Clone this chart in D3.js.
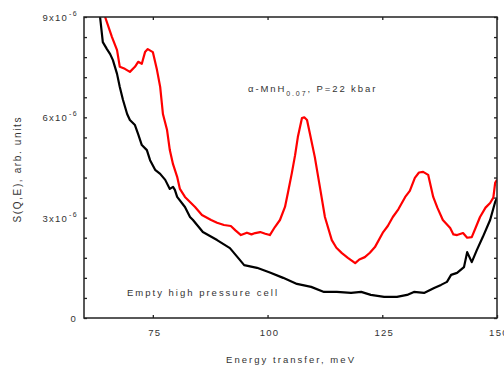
<!DOCTYPE html>
<html>
<head>
<meta charset="utf-8">
<script src="https://cdn.jsdelivr.net/npm/d3@7"></script>
<style>
  html, body { margin: 0; padding: 0; background: #fff; }
  svg { display: block; font-family: "Liberation Sans", Arial, sans-serif; }
</style>
</head>
<body>
<svg id="chart" width="504" height="365"></svg>
<script>
// Energy transfer (meV) vs S(Q,E) in units of 1e-6
const sampleSpectrum = [
  [64.6, 9.0], [66.1, 8.40], [67.2, 8.01], [67.8, 7.51], [68.9, 7.45], [70.0, 7.36],
  [71.1, 7.51], [71.8, 7.66], [72.6, 7.60], [73.3, 7.95], [73.9, 8.04], [75.0, 7.95],
  [75.9, 7.42], [76.6, 6.91], [77.2, 6.10], [78.1, 5.62], [78.7, 5.02], [79.4, 4.60],
  [80.3, 4.22], [80.9, 3.86], [82.0, 3.62], [84.2, 3.32], [85.7, 3.08], [87.7, 2.93],
  [89.0, 2.85], [90.5, 2.78], [92.0, 2.75], [93.0, 2.62], [94.2, 2.48], [95.5, 2.55],
  [96.5, 2.50], [97.3, 2.54], [98.4, 2.57], [99.5, 2.52], [100.5, 2.48], [101.6, 2.72],
  [102.7, 2.93], [103.8, 3.32], [104.45, 3.75], [105.3, 4.34], [106.0, 4.87], [106.6, 5.41],
  [107.5, 5.98], [108.0, 6.0], [108.6, 5.92], [109.2, 5.53], [110.3, 4.81], [111.4, 3.92],
  [112.5, 3.02], [114.0, 2.33], [115.0, 2.10], [116.2, 1.94], [117.5, 1.80], [119.1, 1.64],
  [120.0, 1.75], [121.2, 1.82], [122.3, 1.95], [123.4, 2.12], [125.2, 2.57], [126.2, 2.75],
  [127.3, 3.02], [128.5, 3.25], [130.0, 3.62], [131.0, 3.80], [132.1, 4.19], [133.0, 4.35],
  [133.9, 4.37], [135.0, 4.28], [136.1, 3.62], [137.0, 3.30], [138.2, 2.93], [139.8, 2.69],
  [140.5, 2.50], [141.3, 2.48], [142.6, 2.54], [143.5, 2.40], [144.5, 2.42], [145.5, 2.75],
  [146.3, 3.02], [147.5, 3.30], [148.5, 3.44], [149.2, 3.60], [149.6, 4.04], [150.0, 4.13]
];

const emptyCellSpectrum = [
  [63.5, 9.0], [64.1, 8.25], [65.0, 8.04], [65.7, 7.89], [66.3, 7.71], [67.2, 7.30],
  [67.8, 6.91], [68.5, 6.52], [69.4, 6.10], [70.0, 5.92], [71.1, 5.77], [71.8, 5.50],
  [72.6, 5.17], [73.7, 5.02], [74.4, 4.72], [75.5, 4.43], [76.6, 4.31], [77.7, 4.13],
  [78.7, 3.86], [79.4, 3.92], [79.8, 3.83], [80.3, 3.62], [82.0, 3.32], [83.1, 3.02],
  [83.75, 2.93], [85.9, 2.57], [89.0, 2.33], [91.8, 2.09], [94.0, 1.73], [94.9, 1.58],
  [97.7, 1.50], [100.5, 1.36], [103.4, 1.20], [106.4, 1.02], [109.5, 0.93], [112.3, 0.78],
  [115.1, 0.78], [118.2, 0.75], [120.4, 0.78], [122.5, 0.69], [125.4, 0.63], [128.2, 0.63],
  [130.4, 0.69], [131.9, 0.78], [134.1, 0.75], [136.3, 0.90], [137.8, 0.99], [139.1, 1.08],
  [140.0, 1.29], [141.3, 1.35], [142.8, 1.52], [143.5, 1.97], [144.5, 1.67], [145.6, 2.03],
  [146.9, 2.42], [148.5, 2.93], [149.6, 3.47], [150.0, 3.59]
];

const xTicks = [75, 100, 125, 150];
const yTicks = [0, 3, 6, 9];
const yTickLabels = ["0", "3x10", "6x10", "9x10"];
const yMinorStep = 0.6;

const svg = d3.select("#chart");
const margin = { left: 84, right: 7, top: 17, bottom: 47 };
const W = 504, H = 365;

const x = d3.scaleLinear().domain([60, 150]).range([margin.left, W - margin.right]);
const y = d3.scaleLinear().domain([0, 9]).range([H - margin.bottom, margin.top]);

const yMinor = d3.range(0, 9.0001, yMinorStep);

// clip so curves stay inside the frame
svg.append("clipPath").attr("id", "plotClip")
  .append("rect")
  .attr("x", x(60)).attr("y", y(9))
  .attr("width", x(150) - x(60)).attr("height", y(0) - y(9));

const line = d3.line().x(d => x(d[0])).y(d => y(d[1]));

const curves = svg.append("g").attr("clip-path", "url(#plotClip)");
curves.append("path").datum(emptyCellSpectrum)
  .attr("d", line).attr("fill", "none")
  .attr("stroke", "#000").attr("stroke-width", 2.2).attr("stroke-linejoin", "round");
curves.append("path").datum(sampleSpectrum)
  .attr("d", line).attr("fill", "none")
  .attr("stroke", "#ff0000").attr("stroke-width", 2.2).attr("stroke-linejoin", "round");

// inward ticks on all four sides
const tickLen = 3;
const axisColor = "#222";
const leftAxis = d3.axisLeft(y).tickValues(yMinor).tickSize(-tickLen).tickFormat("");
const rightAxis = d3.axisRight(y).tickValues(yMinor).tickSize(-tickLen).tickFormat("");
const bottomAxis = d3.axisBottom(x).tickValues(xTicks).tickSize(-tickLen).tickFormat("");
const topAxis = d3.axisTop(x).tickValues(xTicks).tickSize(-tickLen).tickFormat("");

[[leftAxis, `translate(${x(60)},0)`], [rightAxis, `translate(${x(150)},0)`],
 [bottomAxis, `translate(0,${y(0)})`], [topAxis, `translate(0,${y(9)})`]].forEach(([ax, tr]) => {
  const g = svg.append("g").attr("transform", tr).call(ax);
  g.select(".domain").remove();
  g.selectAll("line").attr("stroke", axisColor).attr("stroke-width", 1.3);
});

svg.append("rect")
  .attr("x", x(60)).attr("y", y(9))
  .attr("width", x(150) - x(60)).attr("height", y(0) - y(9))
  .attr("fill", "none").attr("stroke", axisColor).attr("stroke-width", 1.5);

// y tick labels with exponent
const textColor = "#333";
yTicks.forEach((v, i) => {
  svg.append("text")
    .attr("x", i === 0 ? x(60) - 7 : x(60) - 16)
    .attr("y", y(v) + 4)
    .attr("text-anchor", "end")
    .attr("font-size", 9.5)
    .attr("letter-spacing", 1.2)
    .attr("fill", textColor)
    .text(yTickLabels[i]);
  if (i > 0) {
    svg.append("text")
      .attr("x", x(60) - 15)
      .attr("y", y(v) - 1)
      .attr("font-size", 7)
      .attr("letter-spacing", 1.5)
      .attr("fill", textColor)
      .text("-6");
  }
});

// x tick labels
xTicks.forEach(v => {
  svg.append("text")
    .attr("x", x(v) + 2)
    .attr("y", y(0) + 18)
    .attr("text-anchor", "middle")
    .attr("font-size", 9.5)
    .attr("letter-spacing", 1.3)
    .attr("fill", textColor)
    .text(v);
});

// axis titles
svg.append("text")
  .attr("x", 290).attr("y", 363)
  .attr("text-anchor", "middle")
  .attr("font-size", 9.5)
  .attr("fill", textColor)
  .attr("textLength", 128).attr("lengthAdjust", "spacing")
  .text("Energy transfer, meV");

svg.append("text")
  .attr("transform", "translate(21,170) rotate(-90)")
  .attr("text-anchor", "middle")
  .attr("font-size", 10)
  .attr("fill", textColor)
  .attr("textLength", 105).attr("lengthAdjust", "spacing")
  .text("S(Q,E), arb. units");

// annotations
const ann = svg.append("text")
  .attr("x", 248).attr("y", 92)
  .attr("font-size", 9.5)
  .attr("letter-spacing", 1.9)
  .attr("fill", textColor);
ann.append("tspan").text("α-MnH");
ann.append("tspan").attr("font-size", 7).attr("dy", 4).text("0.07");
ann.append("tspan").attr("dy", -4).text(", P=22 kbar");

svg.append("text")
  .attr("x", 127).attr("y", 296)
  .attr("font-size", 9.5)
  .attr("fill", textColor)
  .attr("textLength", 150).attr("lengthAdjust", "spacing")
  .text("Empty high pressure cell");
</script>
</body>
</html>
